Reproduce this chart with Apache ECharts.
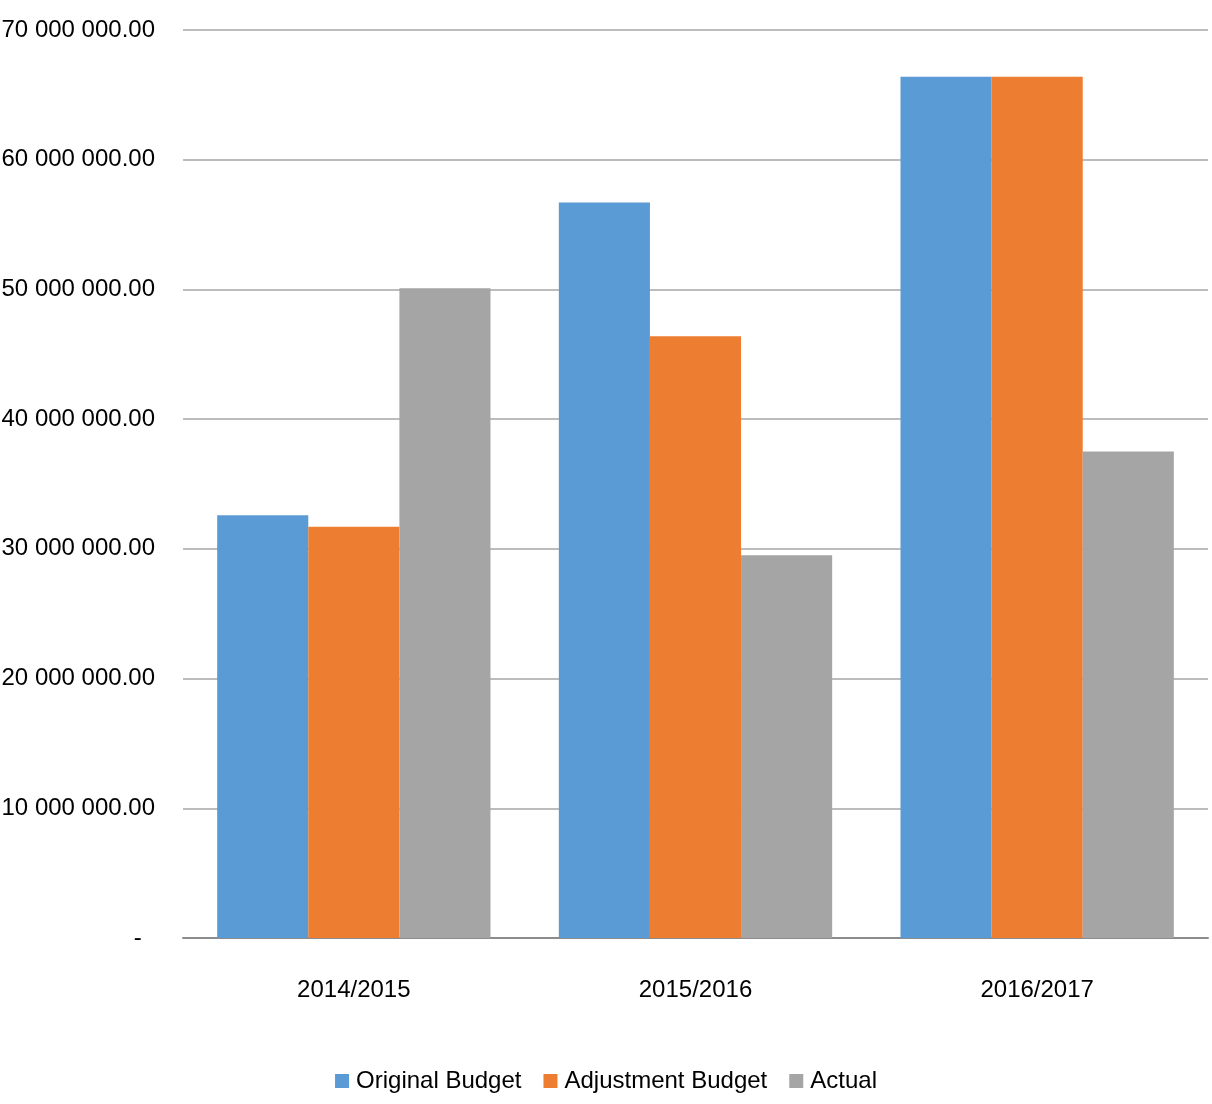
<!DOCTYPE html>
<html>
<head>
<meta charset="utf-8">
<script src="https://cdn.jsdelivr.net/npm/echarts@6/dist/echarts.min.js"></script>
<style>
html,body{margin:0;padding:0;background:#fff;}
#chart{width:1212px;height:1104px;}
</style>
</head>
<body>
<div id="chart"></div>
<script>
var categories = ['2014/2015', '2015/2016', '2016/2017'];
var originalBudget = [32600000, 56700000, 66400000];
var adjustmentBudget = [31700000, 46400000, 66400000];
var actual = [50100000, 29500000, 37500000];
var seriesNames = ['Original Budget', 'Adjustment Budget', 'Actual'];

var FONT = '"Liberation Sans Narrow", "Arial Narrow", "Liberation Sans", Arial, sans-serif';

function fmt(v) {
  if (v === 0) return '-  ';
  var s = Math.round(v).toString();
  return s.replace(/\B(?=(\d{3})+(?!\d))/g, ' ') + '.00';
}

var chart = echarts.init(document.getElementById('chart'));
chart.setOption({
  backgroundColor: '#ffffff',
  animation: false,
  textStyle: { fontFamily: FONT },
  legend: {
    top: 1064,
    left: 'center',
    itemWidth: 14,
    itemHeight: 14,
    itemGap: 22,
    icon: 'rect',
    textStyle: { fontFamily: FONT, fontSize: 24, color: '#000', padding: [0, 0, 0, 2] },
    data: seriesNames
  },
  grid: { left: 183, right: 4, top: 30, bottom: 166, containLabel: false, outerBoundsMode: 'none' },
  xAxis: {
    type: 'category',
    data: categories,
    axisLine: { lineStyle: { color: '#8c8c8c', width: 2 } },
    axisTick: { show: false },
    axisLabel: { fontFamily: FONT, fontSize: 24, color: '#000', margin: 40 }
  },
  yAxis: {
    type: 'value',
    min: 0,
    max: 70000000,
    interval: 10000000,
    axisLine: { show: false },
    axisTick: { show: false },
    splitLine: { lineStyle: { color: '#a6a6a6', width: 1.5 } },
    axisLabel: { fontFamily: FONT, fontSize: 24, color: '#000', margin: 28, formatter: fmt }
  },
  series: [
    { name: seriesNames[0], type: 'bar', data: originalBudget, itemStyle: { color: '#5B9BD5' }, barGap: '0%', barCategoryGap: '20%' },
    { name: seriesNames[1], type: 'bar', data: adjustmentBudget, itemStyle: { color: '#ED7D31' }, barGap: '0%', barCategoryGap: '20%' },
    { name: seriesNames[2], type: 'bar', data: actual, itemStyle: { color: '#A5A5A5' }, barGap: '0%', barCategoryGap: '20%' }
  ]
});
</script>
</body>
</html>
